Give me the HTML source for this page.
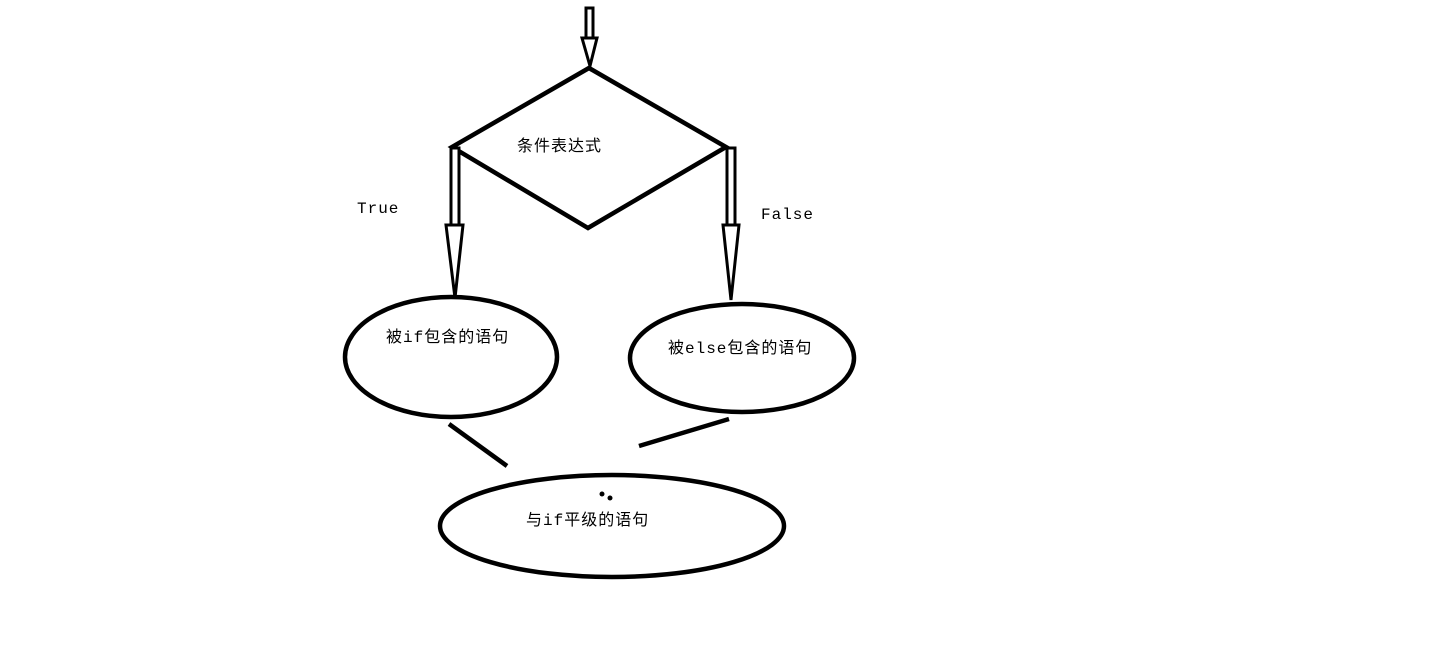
<!DOCTYPE html>
<html><head><meta charset="utf-8"><style>
html,body{margin:0;padding:0;background:#fff;}
svg{display:block;}
text{font-family:"Liberation Mono","Noto Sans CJK SC",monospace;font-size:16px;letter-spacing:1px;fill:#000;}
</style></head><body>
<svg width="1434" height="667" viewBox="0 0 1434 667" xmlns="http://www.w3.org/2000/svg">
<g fill="none" stroke="#000" stroke-width="4.5" stroke-linejoin="miter">
<polygon points="589,68 452,147 588,228 726,147"/>
<ellipse cx="451" cy="357" rx="106" ry="60"/>
<ellipse cx="742" cy="358" rx="112" ry="54"/>
<ellipse cx="612" cy="526" rx="172" ry="51"/>
<line x1="449" y1="424" x2="507" y2="466"/>
<line x1="639" y1="446" x2="729" y2="419"/>
</g>
<g fill="#fff" stroke="#000" stroke-width="3">
<rect x="586" y="8" width="7" height="30"/>
<polygon points="582,38 597,38 590,66"/>
<rect x="451" y="148" width="8" height="77"/>
<polygon points="446,225 463,225 455,298"/>
<rect x="727" y="148" width="8" height="77"/>
<polygon points="723,225 739,225 731,300"/>
</g>
<circle cx="602" cy="494" r="2.5" fill="#000"/>
<circle cx="610" cy="498" r="2.5" fill="#000"/>
<text x="517" y="151">条件表达式</text>
<text x="357" y="213">True</text>
<text x="761" y="219">False</text>
<text x="386" y="342">被if包含的语句</text>
<text x="668" y="353">被else包含的语句</text>
<text x="526" y="525">与if平级的语句</text>
</svg>
</body></html>
